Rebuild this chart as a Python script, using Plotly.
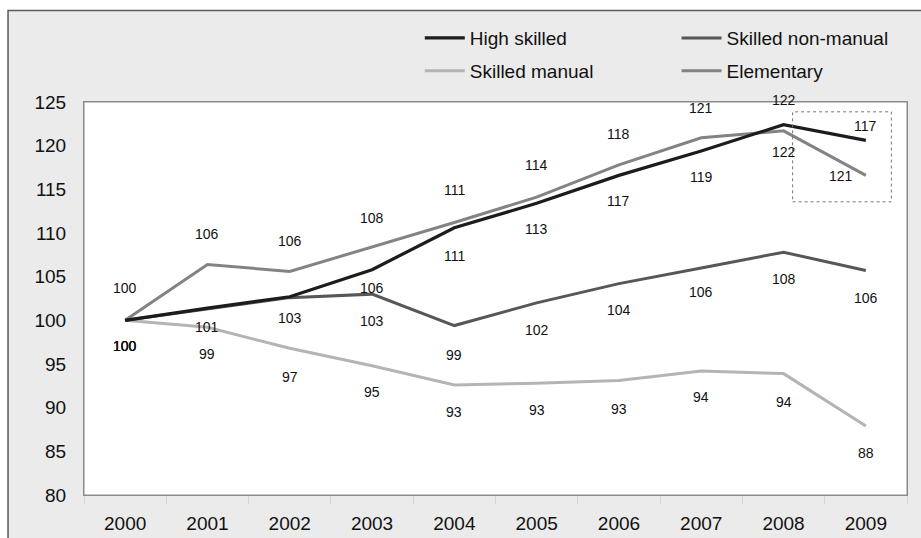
import plotly.graph_objects as go

years = [2000, 2001, 2002, 2003, 2004, 2005, 2006, 2007, 2008, 2009]
year_labels = [str(y) for y in years]

high_skilled = [100, 101.4, 102.7, 105.8, 110.6, 113.4, 116.6, 119.4, 122.4, 120.6]
skilled_non_manual = [100, 101.3, 102.6, 103.0, 99.4, 102.0, 104.2, 106.0, 107.8, 105.7]
skilled_manual = [100, 99.2, 96.8, 94.8, 92.6, 92.8, 93.1, 94.2, 93.9, 87.9]
elementary = [100, 106.4, 105.6, 108.4, 111.2, 114.1, 117.8, 120.9, 121.7, 116.6]

# data labels as printed (non-manual 2001/2002 hidden behind the high-skilled ones)
high_labels = ["100", "101", "103", "106", "111", "113", "117", "119", "122", "121"]
non_manual_labels = ["100", "", "", "103", "99", "102", "104", "106", "108", "106"]
manual_labels = ["100", "99", "97", "95", "93", "93", "93", "94", "94", "88"]
elementary_labels = ["100", "106", "106", "108", "111", "114", "118", "121", "122", "117"]

y_ticks = [80, 85, 90, 95, 100, 105, 110, 115, 120, 125]

FONT = "Liberation Sans, Arial, sans-serif"

series = [
    dict(name="High skilled", y=high_skilled, labels=high_labels, color="#1c1c1c", width=3.2,
         legend="legend", rank=1, dy=[-26, -19, -21, -18, -28, -26, -26, -26, -27, -36],
         dx=[0, 0, 0, 0, 0, 0, 0, 0, 0, -25]),
    dict(name="Skilled manual", y=skilled_manual, labels=manual_labels, color="#b4b4b4", width=3,
         legend="legend", rank=2, dy=[-26, -27, -29, -26, -27, -27, -28, -26, -28, -27],
         dx=[0] * 10),
    dict(name="Skilled non-manual", y=skilled_non_manual, labels=non_manual_labels, color="#575757", width=3,
         legend="legend2", rank=1, dy=[-26, -18, -19, -27, -29, -27, -26, -24, -27, -27],
         dx=[0] * 10),
    dict(name="Elementary", y=elementary, labels=elementary_labels, color="#838383", width=3,
         legend="legend2", rank=2, dy=[32, 30, 30, 29, 33, 32, 31, 30, 31, 49],
         dx=[0] * 10),
]

fig = go.Figure()
annotations = []
# draw order: elementary, manual, non-manual, high (high on top)
for s in [series[3], series[1], series[2], series[0]]:
    fig.add_trace(go.Scatter(
        x=years, y=s["y"], mode="lines", name=s["name"],
        line=dict(color=s["color"], width=s["width"]),
        legend=s["legend"], legendgroup=s["name"], legendrank=s["rank"],
        hoverinfo="skip",
    ))
for s in series:
    for xv, yv, t, dy, dx in zip(years, s["y"], s["labels"], s["dy"], s["dx"]):
        if not t:
            continue
        annotations.append(dict(
            x=xv, y=yv, xref="x", yref="y", text=t, showarrow=False, yshift=dy, xshift=dx,
            font=dict(family=FONT, size=14, color="#111111"),
        ))

shapes = [
    # outer gray frame
    dict(type="rect", xref="paper", yref="paper", x0=-0.0923, x1=1.03, y0=-0.13, y1=1.233,
         fillcolor="#ebebeb", line=dict(color="#5a5a5a", width=1.5), layer="below"),
    # white plotting area
    dict(type="rect", xref="x domain", yref="y domain", x0=0, x1=1, y0=0, y1=1,
         fillcolor="white", line=dict(color="#8a8a8a", width=1), layer="below"),
    # dotted highlight box
    dict(type="rect", xref="paper", yref="paper", x0=0.861, x1=0.981, y0=0.746, y1=0.975,
         line=dict(color="#777777", width=1, dash="dot"), layer="above"),
]

legend_style = dict(xanchor="left", yanchor="top", orientation="v",
                    bgcolor="rgba(0,0,0,0)", font=dict(size=19, family=FONT, color="#111111"),
                    tracegroupgap=5, itemwidth=40)

fig.update_layout(
    width=921, height=538,
    margin=dict(l=84, r=14, t=102, b=43),
    paper_bgcolor="white",
    plot_bgcolor="white",
    font=dict(family=FONT, color="#111111"),
    showlegend=True,
    hovermode=False,
    legend=dict(x=0.408, y=1.211, **legend_style),
    legend2=dict(x=0.720, y=1.211, **legend_style),
    annotations=annotations,
    shapes=shapes,
    xaxis=dict(
        type="linear", range=[1999.5, 2009.5], tickvals=years, ticktext=year_labels,
        showgrid=False, zeroline=False, automargin=False,
        showline=True, linecolor="#8a8a8a", linewidth=1, mirror=True,
        ticks="", tickfont=dict(size=19, family=FONT, color="#111111"), ticklabelstandoff=11,
        minor=dict(ticks="outside", tick0=1999.5, dtick=1, ticklen=8, tickcolor="#d6d6d6", showgrid=False),
    ),
    yaxis=dict(
        range=[80, 125], tickvals=y_ticks, ticktext=[str(v) for v in y_ticks],
        showgrid=False, zeroline=False, automargin=False,
        showline=True, linecolor="#8a8a8a", linewidth=1, mirror=True,
        ticks="", tickfont=dict(size=19, family=FONT, color="#111111"), ticklabelstandoff=13,
    ),
)

fig.write_html("out.html", config={"displayModeBar": False},
               post_script="document.body.style.margin='0px';")
